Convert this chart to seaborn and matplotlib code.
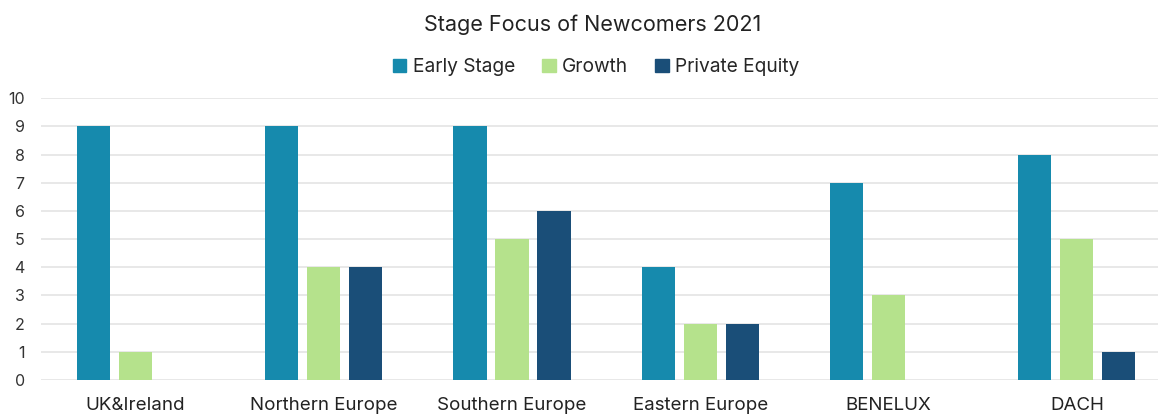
import matplotlib
matplotlib.use("Agg")
import matplotlib.pyplot as plt
import seaborn as sns
import pandas as pd

# Data
regions = ["UK&Ireland", "Northern Europe", "Southern Europe",
           "Eastern Europe", "BENELUX", "DACH"]
early_stage = [9, 9, 9, 4, 7, 8]
growth = [1, 4, 5, 2, 3, 5]
private_equity = [0, 4, 6, 2, 0, 1]

stages = ["Early Stage", "Growth", "Private Equity"]
palette = ["#168AAD", "#B5E28C", "#1A4E78"]

df = pd.DataFrame({
    "region": regions * 3,
    "stage": [s for s in stages for _ in regions],
    "count": early_stage + growth + private_equity,
})

sns.set_theme(style="white")
plt.rcParams["font.family"] = ["Inter", "DejaVu Sans"]

fig = plt.figure(figsize=(11.58, 4.16), dpi=100)
ax = fig.add_axes([0.0357, 0.0865, 0.9755, 0.6775])

sns.barplot(
    data=df, x="region", y="count", hue="stage",
    order=regions, hue_order=stages, palette=palette,
    width=0.67, gap=0.21, linewidth=0, saturation=1,
    errorbar=None, ax=ax,
)

ax.set_ylim(0, 10)
ax.set_xlim(-0.5, 5.5)
ax.set_yticks(range(0, 11))
ax.yaxis.grid(True, color="#E4E4E4", linewidth=1.2)
ax.set_axisbelow(True)
sns.despine(ax=ax, left=True, bottom=True)
ax.set_xlabel("")
ax.set_ylabel("")
ax.tick_params(axis="y", length=0, labelsize=11.5, colors="#333333", pad=12)
ax.tick_params(axis="x", length=0, labelsize=13.5, colors="#222222", pad=12)

ax.get_legend().remove()
handles = [plt.Rectangle((0, 0), 1, 1, color=c) for c in palette]
fig.legend(handles, stages, loc="center", bbox_to_anchor=(0.515, 0.838),
           ncol=3, frameon=False, fontsize=13.8, handlelength=0.7,
           handleheight=0.7, handletextpad=0.35, columnspacing=1.4)

fig.text(0.512, 0.94, "Stage Focus of Newcomers 2021", ha="center",
         va="center", fontsize=15.5, color="#222222")

fig.savefig("out.png", dpi=100)
